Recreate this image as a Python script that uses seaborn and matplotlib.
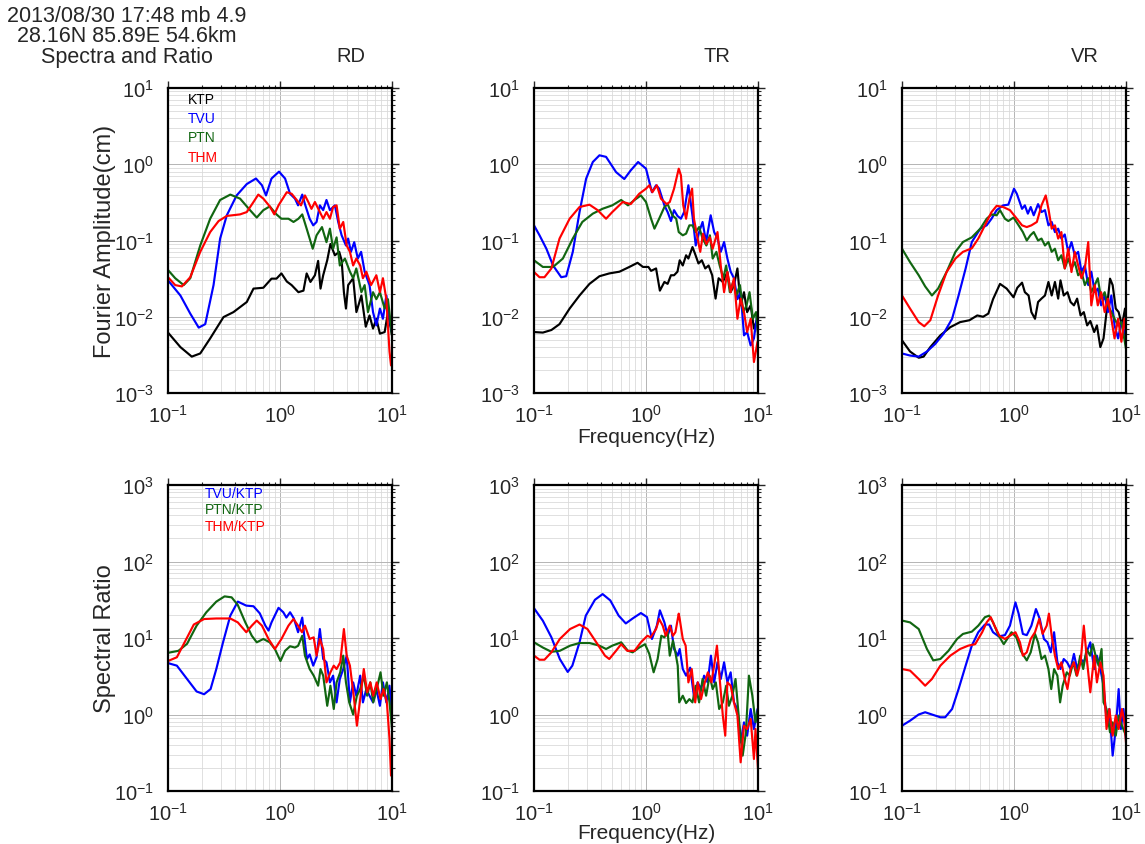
import matplotlib
matplotlib.use('Agg')
import matplotlib.pyplot as plt
import seaborn as sns
from matplotlib.ticker import LogLocator, NullFormatter, LogFormatterSciNotation

# ============================================================
# 값 — (freq Hz, value)
# ============================================================
# --- RD spectra (cm)
rd_ktp = [(0.1, 0.0062), (0.129, 0.0040), (0.163, 0.0030), (0.194, 0.0033), (0.238, 0.0052),
          (0.313, 0.0099), (0.384, 0.0115), (0.505, 0.0156), (0.58, 0.0234), (0.71, 0.024),
          (0.84, 0.0316), (0.93, 0.0316), (1.03, 0.037), (1.15, 0.029), (1.27, 0.026),
          (1.46, 0.021), (1.62, 0.022), (1.73, 0.037), (1.87, 0.0286), (2.05, 0.035),
          (2.19, 0.054), (2.30, 0.0234), (2.43, 0.035), (2.64, 0.055), (2.82, 0.09),
          (3.09, 0.064), (3.38, 0.071), (3.55, 0.055), (3.72, 0.021), (3.88, 0.0128),
          (4.06, 0.026), (4.50, 0.032), (4.81, 0.0115), (5.33, 0.019), (5.83, 0.0074),
          (6.3, 0.0104), (6.77, 0.0070), (7.25, 0.0094), (7.8, 0.0060), (8.6, 0.0063),
          (9.2, 0.0115), (10, 0.0057)]
rd_tvu = [(0.1, 0.030), (0.129, 0.019), (0.158, 0.011), (0.188, 0.0072), (0.215, 0.0080),
          (0.255, 0.026), (0.292, 0.106), (0.335, 0.214), (0.41, 0.39), (0.505, 0.55),
          (0.61, 0.65), (0.69, 0.53), (0.75, 0.39), (0.84, 0.65), (0.98, 0.80), (1.11, 0.65),
          (1.23, 0.41), (1.36, 0.354), (1.45, 0.289), (1.58, 0.40), (1.67, 0.30), (1.84, 0.193),
          (1.98, 0.158), (2.12, 0.175), (2.27, 0.289), (2.43, 0.25), (2.60, 0.34), (2.79, 0.25),
          (3.09, 0.289), (3.31, 0.175), (3.55, 0.117), (3.88, 0.086), (4.06, 0.106), (4.3, 0.071),
          (4.6, 0.095), (4.95, 0.058), (5.3, 0.071), (5.7, 0.039), (6.3, 0.026), (6.77, 0.0115),
          (7.25, 0.0077), (7.8, 0.0128), (8.3, 0.0094), (8.9, 0.019), (9.5, 0.0094), (10, 0.0063)]
rd_ptn = [(0.1, 0.041), (0.116, 0.032), (0.138, 0.026), (0.158, 0.032), (0.194, 0.086),
          (0.238, 0.193), (0.292, 0.34), (0.36, 0.40), (0.44, 0.354), (0.54, 0.25), (0.62, 0.20),
          (0.71, 0.25), (0.81, 0.28), (0.93, 0.22), (1.03, 0.193), (1.19, 0.193), (1.32, 0.175),
          (1.46, 0.193), (1.58, 0.22), (1.73, 0.143), (1.96, 0.078), (2.12, 0.117), (2.37, 0.15),
          (2.60, 0.095), (2.79, 0.143), (2.98, 0.078), (3.20, 0.11), (3.42, 0.047), (3.80, 0.058),
          (4.21, 0.039), (4.5, 0.032), (4.8, 0.043), (5.33, 0.021), (5.7, 0.026), (6.1, 0.0115),
          (6.77, 0.021), (7.25, 0.017), (7.8, 0.021), (8.6, 0.0128), (9.2, 0.017), (10, 0.0057)]
rd_thm = [(0.1, 0.033), (0.116, 0.026), (0.133, 0.025), (0.158, 0.033), (0.194, 0.071),
          (0.238, 0.129), (0.283, 0.18), (0.335, 0.21), (0.44, 0.22), (0.505, 0.236), (0.58, 0.32),
          (0.64, 0.40), (0.71, 0.354), (0.81, 0.28), (0.89, 0.22), (0.97, 0.289), (1.15, 0.43),
          (1.27, 0.41), (1.41, 0.34), (1.54, 0.289), (1.67, 0.39), (1.79, 0.32), (1.91, 0.26),
          (2.05, 0.32), (2.27, 0.236), (2.43, 0.193), (2.60, 0.236), (2.79, 0.193), (2.98, 0.275),
          (3.2, 0.289), (3.42, 0.143), (3.67, 0.175), (3.94, 0.086), (4.21, 0.071), (4.5, 0.047),
          (4.8, 0.058), (5.2, 0.047), (5.5, 0.032), (5.9, 0.039), (6.5, 0.026), (7.25, 0.035),
          (7.8, 0.021), (8.3, 0.032), (8.9, 0.017), (9.5, 0.0035), (9.8, 0.0023)]

# --- TR spectra (cm)
tr_ktp = [(0.1, 0.0063), (0.12, 0.0062), (0.143, 0.0067), (0.169, 0.0080), (0.208, 0.0128),
          (0.255, 0.019), (0.313, 0.027), (0.384, 0.034), (0.47, 0.037), (0.58, 0.039),
          (0.71, 0.045), (0.84, 0.051), (0.94, 0.045), (1.05, 0.045), (1.11, 0.040), (1.23, 0.043),
          (1.33, 0.022), (1.46, 0.0286), (1.56, 0.027), (1.67, 0.035), (1.78, 0.035), (1.91, 0.039),
          (2.0, 0.055), (2.13, 0.047), (2.28, 0.064), (2.39, 0.058), (2.6, 0.082), (2.74, 0.067),
          (2.94, 0.05), (3.15, 0.055), (3.38, 0.043), (3.62, 0.047), (3.9, 0.035), (4.18, 0.0173),
          (4.45, 0.032), (4.85, 0.0286), (5.33, 0.0386), (5.7, 0.021), (6.1, 0.026), (6.55, 0.043),
          (7.0, 0.0141), (7.5, 0.021), (8.0, 0.0115), (8.6, 0.0141), (9.2, 0.007), (9.9, 0.0094),
          (10, 0.0052)]
tr_tvu = [(0.1, 0.158), (0.112, 0.117), (0.129, 0.078), (0.148, 0.047), (0.175, 0.033),
          (0.194, 0.034), (0.222, 0.071), (0.255, 0.236), (0.292, 0.647), (0.335, 1.07),
          (0.384, 1.31), (0.44, 1.25), (0.54, 0.79), (0.64, 0.64), (0.73, 0.83), (0.85, 1.07),
          (1.0, 0.875), (1.13, 0.43), (1.23, 0.53), (1.31, 0.48), (1.46, 0.289), (1.56, 0.236),
          (1.67, 0.18), (1.78, 0.25), (1.91, 0.21), (2.05, 0.193), (2.19, 0.236), (2.39, 0.53),
          (2.6, 0.21), (2.78, 0.086), (2.98, 0.129), (3.2, 0.175), (3.44, 0.0955), (3.78, 0.214),
          (4.06, 0.129), (4.35, 0.106), (4.65, 0.071), (4.98, 0.0955), (5.33, 0.058), (5.7, 0.039),
          (6.1, 0.032), (6.55, 0.017), (7.0, 0.021), (7.5, 0.0057), (8.0, 0.0063), (8.6, 0.0042),
          (9.2, 0.0052), (9.9, 0.0115), (10, 0.0063)]
tr_ptn = [(0.1, 0.055), (0.12, 0.045), (0.148, 0.045), (0.181, 0.058), (0.222, 0.106),
          (0.27, 0.175), (0.335, 0.225), (0.41, 0.261), (0.50, 0.289), (0.60, 0.34), (0.69, 0.289),
          (0.79, 0.34), (0.90, 0.39), (1.0, 0.32), (1.11, 0.193), (1.19, 0.143), (1.31, 0.193),
          (1.46, 0.275), (1.56, 0.30), (1.72, 0.214), (1.86, 0.193), (1.96, 0.129), (2.13, 0.117),
          (2.28, 0.123), (2.44, 0.158), (2.6, 0.158), (2.78, 0.129), (2.98, 0.15), (3.2, 0.106),
          (3.46, 0.086), (3.72, 0.117), (3.94, 0.058), (4.25, 0.071), (4.55, 0.047), (4.9, 0.032),
          (5.2, 0.047), (5.6, 0.021), (6.0, 0.0286), (6.4, 0.019), (6.9, 0.026), (7.4, 0.0115),
          (7.9, 0.0141), (8.4, 0.021), (9.0, 0.0094), (9.6, 0.0115), (10, 0.0063)]
tr_thm = [(0.1, 0.0386), (0.112, 0.033), (0.124, 0.033), (0.143, 0.043), (0.169, 0.106),
          (0.208, 0.193), (0.255, 0.275), (0.313, 0.295), (0.37, 0.25), (0.44, 0.193), (0.50, 0.236),
          (0.62, 0.32), (0.73, 0.30), (0.87, 0.41), (1.0, 0.478), (1.07, 0.53), (1.14, 0.43),
          (1.25, 0.53), (1.36, 0.354), (1.53, 0.30), (1.63, 0.32), (1.78, 0.478), (1.96, 0.875),
          (2.05, 0.716), (2.15, 0.289), (2.28, 0.193), (2.44, 0.354), (2.58, 0.478), (2.68, 0.193),
          (2.89, 0.106), (3.05, 0.071), (3.23, 0.123), (3.46, 0.09), (3.72, 0.11), (3.94, 0.078),
          (4.35, 0.129), (4.65, 0.047), (4.98, 0.021), (5.33, 0.0386), (5.7, 0.021), (6.1, 0.032),
          (6.55, 0.0094), (7.0, 0.0173), (7.5, 0.0115), (8.0, 0.0063), (8.6, 0.0094), (9.2, 0.00255),
          (9.9, 0.0047), (10, 0.0035)]

# --- VR spectra (cm)
vr_ktp = [(0.1, 0.0049), (0.118, 0.0035), (0.141, 0.0029), (0.156, 0.0030), (0.179, 0.0040),
          (0.22, 0.0057), (0.27, 0.0073), (0.33, 0.0085), (0.40, 0.009), (0.47, 0.0104),
          (0.53, 0.010), (0.59, 0.011), (0.65, 0.017), (0.75, 0.027), (0.86, 0.0234), (0.99, 0.018),
          (1.07, 0.024), (1.18, 0.028), (1.25, 0.021), (1.35, 0.019), (1.43, 0.0115), (1.54, 0.0094),
          (1.64, 0.0156), (1.76, 0.0173), (1.89, 0.019), (2.03, 0.0286), (2.17, 0.019), (2.32, 0.0286),
          (2.48, 0.0173), (2.6, 0.030), (2.78, 0.019), (3.0, 0.021), (3.2, 0.0156), (3.43, 0.0141),
          (3.66, 0.0173), (3.93, 0.0104), (4.2, 0.0115), (4.5, 0.0077), (4.8, 0.0088), (5.2, 0.0063),
          (5.5, 0.0077), (5.9, 0.0040), (6.3, 0.0052), (6.7, 0.0115), (7.2, 0.0316), (7.6, 0.026),
          (8.1, 0.0128), (8.6, 0.0115), (9.2, 0.0077), (9.8, 0.0128), (10, 0.0094)]
vr_tvu = [(0.1, 0.0033), (0.118, 0.0031), (0.141, 0.0030), (0.167, 0.0035), (0.198, 0.0044),
          (0.235, 0.0060), (0.28, 0.0094), (0.32, 0.019), (0.37, 0.043), (0.42, 0.0955), (0.50, 0.143),
          (0.57, 0.158), (0.63, 0.193), (0.70, 0.25), (0.80, 0.289), (0.89, 0.295), (1.0, 0.478),
          (1.06, 0.41), (1.18, 0.26), (1.25, 0.289), (1.33, 0.225), (1.41, 0.275), (1.5, 0.214),
          (1.64, 0.30), (1.76, 0.236), (1.89, 0.25), (2.03, 0.158), (2.17, 0.175), (2.32, 0.129),
          (2.48, 0.143), (2.65, 0.106), (2.84, 0.12), (3.05, 0.071), (3.26, 0.0955), (3.49, 0.064),
          (3.74, 0.071), (4.0, 0.039), (4.29, 0.047), (4.6, 0.026), (4.9, 0.039), (5.26, 0.021),
          (5.6, 0.0234), (6.0, 0.0141), (6.45, 0.019), (6.9, 0.0115), (7.4, 0.019), (7.9, 0.0077),
          (8.5, 0.0052), (9.1, 0.0085), (9.7, 0.0063), (10, 0.0052)]
vr_ptn = [(0.1, 0.078), (0.118, 0.052), (0.141, 0.035), (0.161, 0.025), (0.185, 0.019),
          (0.21, 0.0234), (0.25, 0.0386), (0.30, 0.071), (0.35, 0.0955), (0.42, 0.11), (0.50, 0.143),
          (0.57, 0.193), (0.63, 0.22), (0.70, 0.214), (0.75, 0.25), (0.83, 0.193), (0.89, 0.18),
          (0.99, 0.20), (1.1, 0.158), (1.2, 0.129), (1.3, 0.1), (1.4, 0.117), (1.5, 0.129),
          (1.64, 0.1), (1.76, 0.106), (1.89, 0.086), (2.03, 0.0955), (2.17, 0.071), (2.32, 0.078),
          (2.48, 0.055), (2.65, 0.064), (2.84, 0.043), (3.05, 0.058), (3.26, 0.043), (3.49, 0.052),
          (3.74, 0.035), (4.0, 0.039), (4.29, 0.026), (4.6, 0.032), (4.9, 0.021), (5.26, 0.026),
          (5.6, 0.032), (6.0, 0.0173), (6.45, 0.021), (6.9, 0.0141), (7.4, 0.0115), (7.9, 0.0094),
          (8.5, 0.0077), (9.1, 0.0085), (10, 0.0038)]
vr_thm = [(0.1, 0.019), (0.118, 0.0128), (0.141, 0.0085), (0.158, 0.0075), (0.179, 0.009),
          (0.21, 0.019), (0.25, 0.0386), (0.30, 0.058), (0.35, 0.071), (0.42, 0.079), (0.48, 0.106),
          (0.55, 0.158), (0.63, 0.236), (0.70, 0.285), (0.80, 0.275), (0.92, 0.25), (1.06, 0.193),
          (1.18, 0.158), (1.3, 0.15), (1.43, 0.158), (1.6, 0.175), (1.76, 0.289), (1.92, 0.39),
          (2.03, 0.261), (2.17, 0.143), (2.32, 0.158), (2.48, 0.106), (2.65, 0.129), (2.84, 0.043),
          (3.05, 0.078), (3.26, 0.0386), (3.49, 0.071), (3.74, 0.047), (4.0, 0.032), (4.29, 0.043),
          (4.6, 0.0955), (4.9, 0.0141), (5.26, 0.026), (5.6, 0.0141), (6.0, 0.021), (6.45, 0.0115),
          (6.9, 0.0173), (7.4, 0.0094), (7.9, 0.0052), (8.5, 0.0094), (9.1, 0.0047), (9.7, 0.0094),
          (10, 0.0063)]

# --- Spectral ratios (x/KTP)
rd_tvu_ratio = [(0.1, 4.7), (0.12, 4.35), (0.148, 2.91), (0.18, 2.0), (0.21, 1.84), (0.24, 2.15),
                (0.27, 3.93), (0.31, 8.78), (0.36, 19.6), (0.42, 29.9), (0.50, 26.5), (0.58, 26),
                (0.66, 21), (0.74, 14.5), (0.79, 12.5), (0.84, 16), (0.97, 24.8), (1.07, 21.7),
                (1.14, 18.5), (1.23, 21.7), (1.33, 18), (1.45, 11.9), (1.58, 18.5), (1.67, 8.78),
                (1.74, 5.31), (1.84, 6.1), (1.98, 4.35), (2.12, 5.6), (2.27, 13.1), (2.43, 5.31),
                (2.60, 4.81), (2.79, 2.63), (2.98, 3.22), (3.2, 1.44), (3.42, 2.91), (3.67, 3.93),
                (3.94, 5.88), (4.21, 1.44), (4.5, 2.63), (4.8, 1.76), (5.2, 3.22), (5.5, 1.44),
                (5.9, 2.15), (6.3, 1.76), (6.77, 1.44), (7.25, 2.15), (7.8, 1.30), (8.3, 2.63),
                (8.9, 1.44), (9.5, 2.38), (10, 0.97)]
rd_ptn_ratio = [(0.1, 6.4), (0.124, 6.8), (0.148, 8.4), (0.18, 14.5), (0.22, 21.7), (0.27, 29.9),
                (0.32, 35), (0.37, 34), (0.42, 27), (0.49, 16), (0.56, 10.7), (0.62, 8.78),
                (0.71, 9.71), (0.81, 8.78), (0.90, 7.18), (1.01, 5.0), (1.11, 6.8), (1.23, 7.8),
                (1.36, 7.5), (1.45, 7.9), (1.58, 10.7), (1.67, 5.88), (1.84, 3.93), (2.0, 3.22),
                (2.19, 2.38), (2.3, 3.93), (2.43, 3.22), (2.64, 1.30), (2.82, 2.38), (3.02, 1.18),
                (3.2, 2.63), (3.45, 3.56), (3.67, 5.88), (3.88, 2.63), (4.15, 1.44), (4.5, 1.0),
                (4.86, 1.76), (5.2, 2.15), (5.6, 3.22), (6.0, 1.76), (6.4, 2.63), (6.8, 1.44),
                (7.3, 2.15), (7.9, 3.56), (8.4, 1.76), (9.0, 2.63), (9.5, 1.44), (10, 0.65)]
rd_thm_ratio = [(0.1, 5.0), (0.12, 5.6), (0.143, 9.2), (0.17, 15), (0.21, 17.7), (0.27, 18),
                (0.36, 18), (0.42, 16), (0.50, 11.9), (0.56, 14.5), (0.62, 16.9), (0.69, 14.5),
                (0.79, 9.71), (0.90, 7.18), (1.03, 9.71), (1.19, 14.5), (1.32, 17.7), (1.45, 14.5),
                (1.57, 11.9), (1.67, 14.5), (1.84, 9.71), (2.0, 10.2), (2.12, 5.88), (2.27, 9.71),
                (2.43, 7.18), (2.6, 2.63), (2.82, 3.56), (3.02, 4.35), (3.2, 3.93), (3.45, 4.81),
                (3.72, 13.1), (3.94, 5.88), (4.21, 4.35), (4.55, 1.76), (4.86, 0.714), (5.2, 1.59),
                (5.6, 3.93), (6.0, 1.95), (6.4, 2.63), (6.8, 1.76), (7.3, 2.63), (7.9, 1.59),
                (8.4, 2.15), (9.0, 1.44), (9.5, 0.478), (9.8, 0.159)]
tr_tvu_ratio = [(0.1, 24.5), (0.12, 16.8), (0.143, 10.2), (0.17, 5.31), (0.2, 3.6), (0.22, 4.35),
                (0.255, 8.78), (0.29, 19.6), (0.35, 31.6), (0.41, 37.5), (0.48, 31), (0.57, 19.6),
                (0.66, 15.5), (0.76, 18), (0.90, 21.2), (1.02, 18.8), (1.13, 9.71), (1.25, 14.5),
                (1.33, 23), (1.46, 16), (1.56, 10.7), (1.67, 14.5), (1.78, 7.18), (1.92, 5.88),
                (2.0, 7.18), (2.13, 3.93), (2.28, 3.22), (2.48, 4.1), (2.7, 1.59), (2.89, 2.63),
                (3.1, 2.15), (3.3, 3.22), (3.55, 2.63), (3.8, 5.88), (4.06, 2.63), (4.35, 4.81),
                (4.65, 2.91), (4.98, 4.81), (5.33, 2.63), (5.7, 3.56), (6.1, 1.44), (6.55, 1.18),
                (7.0, 0.432), (7.5, 0.79), (8.0, 0.529), (8.6, 1.18), (9.2, 0.646), (9.9, 1.18),
                (10, 0.714)]
tr_ptn_ratio = [(0.1, 8.78), (0.12, 7.5), (0.143, 6.6), (0.17, 6.8), (0.21, 7.94), (0.255, 8.6),
                (0.313, 8.6), (0.384, 7.94), (0.44, 7.18), (0.50, 7.94), (0.60, 8.78), (0.69, 6.8),
                (0.76, 6.5), (0.87, 7.5), (0.98, 8.3), (1.07, 6.2), (1.17, 3.56), (1.27, 5.31),
                (1.37, 10.7), (1.46, 10.2), (1.56, 11.9), (1.63, 5.88), (1.74, 9.2), (1.82, 6.8),
                (1.92, 4.35), (1.98, 1.44), (2.13, 1.76), (2.28, 1.41), (2.44, 1.59), (2.6, 1.44),
                (2.78, 2.38), (2.98, 1.44), (3.2, 2.91), (3.44, 1.76), (3.7, 3.22), (3.94, 2.15),
                (4.2, 2.63), (4.5, 1.18), (4.85, 1.44), (5.2, 2.38), (5.5, 1.30), (5.9, 1.76),
                (6.3, 2.91), (6.8, 0.79), (7.3, 0.29), (7.8, 0.584), (8.3, 3.22), (8.9, 1.76),
                (9.5, 0.79), (10, 1.18)]
tr_thm_ratio = [(0.1, 5.88), (0.112, 5.2), (0.124, 5.2), (0.143, 6.5), (0.17, 9.71), (0.21, 13.1),
                (0.255, 15), (0.30, 13.1), (0.36, 8.78), (0.43, 5.88), (0.47, 5.31), (0.54, 6.8),
                (0.6, 8.3), (0.68, 6.8), (0.79, 6.8), (0.90, 8.78), (1.03, 10.7), (1.10, 10.2),
                (1.23, 13.1), (1.31, 17.7), (1.41, 14.5), (1.5, 10.7), (1.63, 14.5), (1.74, 10.7),
                (1.83, 11.9), (1.96, 20.8), (2.0, 17.7), (2.13, 9.71), (2.26, 7.94), (2.39, 2.63),
                (2.56, 3.93), (2.75, 1.44), (2.9, 2.63), (3.1, 1.59), (3.35, 2.63), (3.57, 3.56),
                (3.84, 2.63), (4.1, 4.81), (4.3, 7.94), (4.5, 3.56), (4.85, 0.97), (5.1, 0.529),
                (5.33, 2.63), (5.7, 2.38), (6.1, 1.44), (6.55, 0.97), (7.0, 0.237), (7.5, 0.714),
                (8.0, 0.646), (8.6, 0.873), (9.2, 0.262), (9.5, 0.646), (10, 0.194)]
vr_tvu_ratio = [(0.1, 0.714), (0.118, 0.83), (0.141, 1.0), (0.161, 1.07), (0.185, 1.0), (0.22, 0.92),
                (0.243, 0.92), (0.28, 1.18), (0.32, 2.15), (0.37, 4.35), (0.42, 7.94), (0.48, 11.9),
                (0.55, 15), (0.60, 15), (0.65, 11.9), (0.73, 10.5), (0.83, 10.9), (0.92, 14.5),
                (1.03, 29.2), (1.1, 20.8), (1.2, 11.3), (1.3, 10.9), (1.43, 14.5), (1.57, 23.9),
                (1.7, 17.7), (1.85, 9.71), (1.99, 8.78), (2.13, 6.5), (2.28, 11.9), (2.44, 4.81),
                (2.6, 3.93), (2.78, 5.31), (2.98, 4.81), (3.2, 3.93), (3.43, 6.2), (3.66, 3.93),
                (3.93, 5.31), (4.2, 4.81), (4.5, 6.8), (4.8, 8.78), (5.2, 3.93), (5.5, 5.88),
                (5.9, 3.93), (6.3, 2.38), (6.7, 0.873), (7.1, 1.18), (7.6, 0.29), (8.1, 0.646),
                (8.6, 2.15), (9.0, 0.646), (9.5, 1.18), (10, 0.478)]
vr_ptn_ratio = [(0.1, 16.9), (0.118, 16), (0.141, 13.1), (0.167, 7.18), (0.19, 5.1), (0.22, 5.31),
                (0.26, 6.8), (0.31, 9.71), (0.35, 11.3), (0.42, 12.1), (0.48, 14.5), (0.55, 18.7),
                (0.60, 19.6), (0.65, 16), (0.73, 10.7), (0.81, 8.3), (0.87, 9.71), (0.95, 11.9),
                (1.05, 10.2), (1.15, 6.8), (1.22, 5.88), (1.3, 5.1), (1.41, 6.5), (1.54, 11.3),
                (1.64, 8.78), (1.76, 5.31), (1.89, 5.88), (2.03, 3.93), (2.15, 2.15), (2.28, 3.93),
                (2.44, 3.22), (2.58, 1.44), (2.72, 2.38), (2.96, 3.56), (3.15, 3.22), (3.38, 4.81),
                (3.62, 3.22), (3.9, 5.88), (4.15, 3.93), (4.45, 7.18), (4.78, 5.88), (5.05, 8.3),
                (5.35, 5.88), (5.7, 4.35), (6.05, 7.18), (6.3, 1.44), (6.7, 1.18), (7.2, 0.584),
                (7.6, 0.79), (8.1, 0.529), (8.6, 0.97), (9.2, 0.714), (10, 0.529)]
vr_thm_ratio = [(0.1, 3.93), (0.118, 3.75), (0.141, 2.91), (0.161, 2.38), (0.185, 2.91), (0.22, 4.35),
                (0.27, 5.88), (0.33, 7.18), (0.39, 7.94), (0.45, 8.3), (0.52, 11.9), (0.57, 16),
                (0.62, 18.7), (0.67, 14.5), (0.74, 10.7), (0.83, 9.71), (0.92, 10.7), (1.03, 11.9),
                (1.13, 8.78), (1.2, 5.88), (1.3, 6.5), (1.41, 9.71), (1.54, 11.9), (1.68, 17.7),
                (1.8, 11.3), (1.96, 14.5), (2.05, 20.8), (2.17, 10.7), (2.32, 5.88), (2.48, 3.93),
                (2.65, 4.81), (2.84, 2.91), (3.0, 2.15), (3.2, 3.93), (3.43, 4.81), (3.66, 3.22),
                (3.93, 4.81), (4.2, 14.5), (4.5, 4.81), (4.8, 1.95), (5.2, 5.88), (5.5, 2.63),
                (5.9, 4.81), (6.3, 3.22), (6.7, 0.646), (7.1, 1.18), (7.6, 0.529), (8.1, 0.97),
                (8.6, 0.646), (9.2, 1.18), (9.7, 0.79), (10, 0.43)]

components = ['RD', 'TR', 'VR']
stations = ['KTP', 'TVU', 'PTN', 'THM']
ratio_labels = ['TVU/KTP', 'PTN/KTP', 'THM/KTP']
colors = {'KTP': 'black', 'TVU': '#0000ff', 'PTN': '#116611', 'THM': '#ff0000'}

spectra = {'RD': [rd_ktp, rd_tvu, rd_ptn, rd_thm],
           'TR': [tr_ktp, tr_tvu, tr_ptn, tr_thm],
           'VR': [vr_ktp, vr_tvu, vr_ptn, vr_thm]}
ratios = {'RD': [rd_tvu_ratio, rd_ptn_ratio, rd_thm_ratio],
          'TR': [tr_tvu_ratio, tr_ptn_ratio, tr_thm_ratio],
          'VR': [vr_tvu_ratio, vr_ptn_ratio, vr_thm_ratio]}

# ============================================================
sns.set_style('white')
plt.rcParams['font.family'] = ['Liberation Sans', 'DejaVu Sans']
plt.rcParams['mathtext.default'] = 'regular'

W, H = 1145, 845
fig = plt.figure(figsize=(W / 100, H / 100), dpi=100)

lefts = [168, 534, 902]
AW = 224
LW = 1.55


def style_axes(ax, ylim):
    ax.set_xscale('log')
    ax.set_yscale('log')
    ax.set_xlim(0.1, 10)
    ax.set_ylim(*ylim)
    for ax_ in (ax.xaxis, ax.yaxis):
        ax_.set_major_locator(LogLocator(base=10, numticks=20))
        ax_.set_minor_locator(LogLocator(base=10, subs=range(2, 10), numticks=20))
        ax_.set_minor_formatter(NullFormatter())
        ax_.set_major_formatter(LogFormatterSciNotation())
    ax.grid(True, which='major', color='#b4b4b4', lw=0.7)
    ax.grid(True, which='minor', color='#dadada', lw=0.6)
    ax.tick_params(which='both', direction='out', top=True, right=True,
                   labeltop=False, labelright=False, labelsize=14.5)
    ax.tick_params(axis='x', which='both', pad=3)
    ax.tick_params(axis='y', which='both', pad=5)
    ax.tick_params(which='major', length=5, width=1.0)
    ax.tick_params(which='minor', length=2.5, width=0.8)
    for s in ax.spines.values():
        s.set_linewidth(1.6)
        s.set_color('black')
    ax.set_axisbelow(True)


for j, comp in enumerate(components):
    # ── 위: Fourier spectra
    ax = fig.add_axes([lefts[j] / W, (H - 394) / H, AW / W, 305 / H])
    for st, curve in zip(stations, spectra[comp]):
        f, a = zip(*curve)
        sns.lineplot(x=list(f), y=list(a), ax=ax, color=colors[st], lw=LW,
                     estimator=None, sort=False, legend=False)
    style_axes(ax, (1e-3, 10))
    ax.text(0.817, 1 + 32 / 305, comp, transform=ax.transAxes,
            ha='center', va='center', fontsize=14.5)
    if j == 0:
        for k, st in enumerate(stations):
            ax.text(0.088, 0.964 - k * 0.063, st, color=colors[st],
                    transform=ax.transAxes, ha='left', va='center', fontsize=10)
        ax.set_ylabel('Fourier Amplitude(cm)', fontsize=17)
        ax.yaxis.set_label_coords(-0.232, 0.5)
    if j == 1:
        ax.set_xlabel('Frequency(Hz)', fontsize=15)
        ax.xaxis.set_label_coords(0.5, -0.112)

    # ── 아래: Spectral ratio
    ax = fig.add_axes([lefts[j] / W, (H - 792) / H, AW / W, 306 / H])
    for st, lab, curve in zip(stations[1:], ratio_labels, ratios[comp]):
        f, r = zip(*curve)
        sns.lineplot(x=list(f), y=list(r), ax=ax, color=colors[st], lw=LW,
                     estimator=None, sort=False, legend=False)
    style_axes(ax, (0.1, 1000))
    if j == 0:
        for k, (st, lab) in enumerate(zip(stations[1:], ratio_labels)):
            ax.text(0.165, 0.974 - k * 0.0535, lab, color=colors[st],
                    transform=ax.transAxes, ha='left', va='center', fontsize=10)
        ax.set_ylabel('Spectral Ratio', fontsize=17)
        ax.yaxis.set_label_coords(-0.232, 0.5)
    if j == 1:
        ax.set_xlabel('Frequency(Hz)', fontsize=15)
        ax.xaxis.set_label_coords(0.5, -0.105)

fig.text(127 / W, 1 - 17 / H, '2013/08/30 17:48 mb 4.9', ha='center', va='center', fontsize=15.5)
fig.text(127 / W, 1 - 37 / H, '28.16N 85.89E 54.6km', ha='center', va='center', fontsize=15.5)
fig.text(127 / W, 1 - 57 / H, 'Spectra and Ratio', ha='center', va='center', fontsize=15.5)

fig.savefig('out.png', dpi=100)
